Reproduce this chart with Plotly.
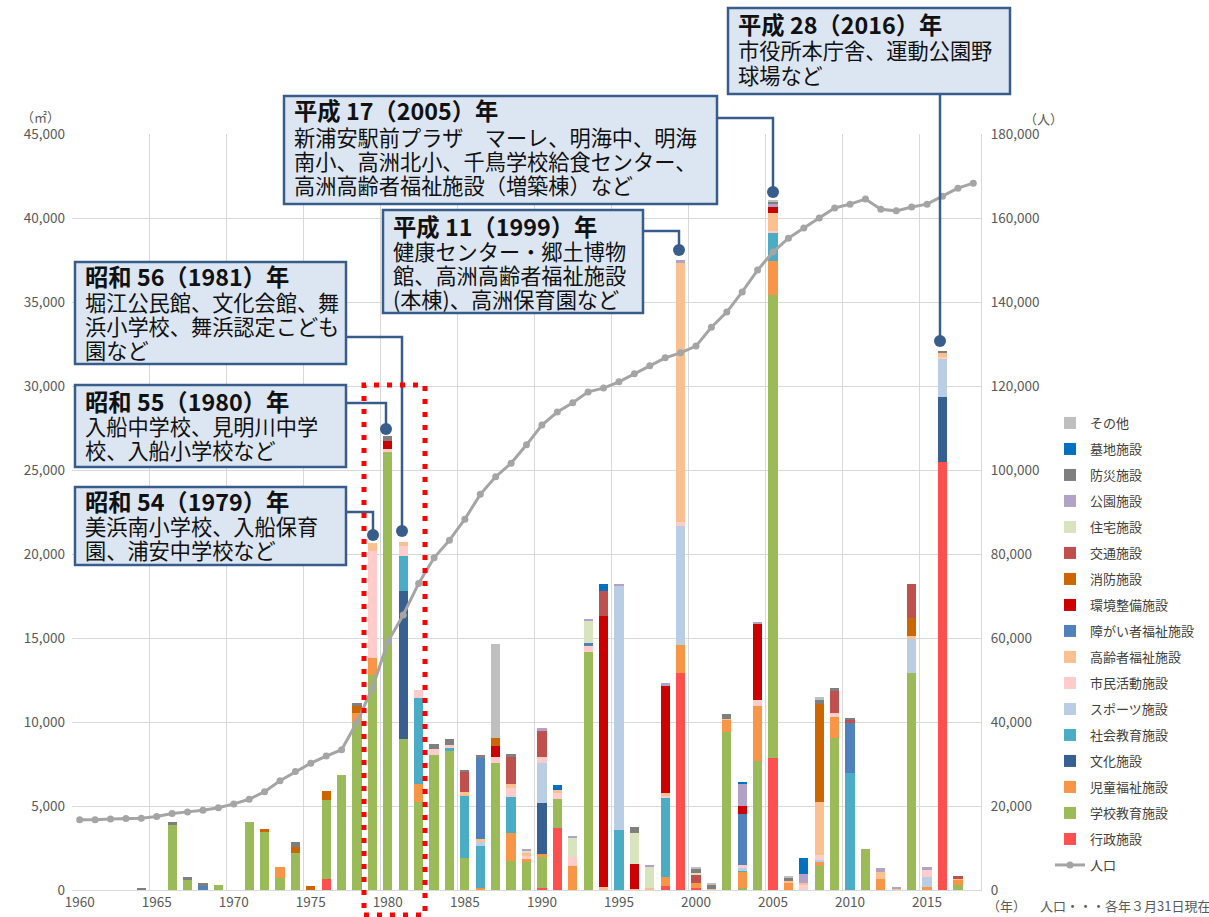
import plotly.graph_objects as go

# ---------------- data ----------------
years = list(range(1960, 2019))
x_tick_years = list(range(1960, 2016, 5))

# floor area (m2) by facility type, per year of construction
gyosei = {1976: 650, 1990: 100, 1991: 3670, 1998: 240, 1999: 12940, 2000: 100,
          2005: 7840, 2016: 25480}
gakko = {1966: 3870, 1967: 600, 1969: 280, 1971: 4030, 1972: 3470, 1973: 690,
         1974: 2180, 1976: 4710, 1977: 6850, 1978: 9920, 1979: 12800, 1980: 26100,
         1981: 8970, 1982: 5260, 1983: 8040, 1984: 8270, 1985: 1880, 1987: 7580,
         1988: 1730, 1989: 1650, 1990: 1880, 1991: 1750, 1993: 14150, 2002: 9420,
         2003: 100, 2004: 7680, 2005: 27580, 2008: 1430, 2009: 9030, 2011: 2440,
         2014: 12900, 2017: 300}
jido = {1973: 660, 1978: 600, 1979: 990, 1982: 1050, 1986: 140, 1988: 1640,
        1989: 200, 1990: 160, 1992: 1450, 1998: 510, 1999: 1640, 2000: 330,
        2002: 700, 2003: 990, 2004: 3270, 2005: 2020, 2006: 430, 2008: 260,
        2009: 1290, 2012: 650, 2015: 200, 2017: 300}
bunka = {1981: 8830, 1990: 3020, 2016: 3890}
shakai = {1981: 2100, 1982: 5140, 1984: 200, 1985: 3730, 1986: 2500, 1988: 2180,
          1995: 3570, 1998: 4710, 2003: 100, 2005: 1700, 2010: 6980}
sports = {1986: 200, 1990: 2380, 1995: 14530, 1999: 7090, 2003: 100, 2008: 100,
          2014: 2020, 2015: 600, 2016: 2230}
shimin = {1979: 6400, 1980: 150, 1981: 600, 1982: 450, 1983: 330, 1984: 160,
          1987: 360, 1988: 500, 1989: 230, 1990: 360, 1991: 330, 1992: 500,
          1993: 430, 1998: 140, 1999: 250, 2003: 200, 2004: 360, 2005: 100,
          2007: 340, 2008: 290, 2009: 230, 2015: 390, 2016: 150}
koreisha = {1979: 480, 1981: 230, 1985: 240, 1986: 200, 1988: 240, 1989: 100,
            1991: 200, 1994: 150, 1996: 60, 1997: 100, 1998: 190, 1999: 15420,
            2001: 80, 2002: 80, 2005: 1070, 2006: 100, 2007: 100, 2008: 3180,
            2012: 400, 2013: 50, 2014: 200, 2016: 220, 2017: 60}
shogai = {1968: 240, 1986: 4840, 1993: 100, 2003: 3030, 2010: 2980}
kankyo = {1980: 500, 1987: 630, 1994: 16180, 1996: 1470, 1998: 6350, 2003: 500,
          2004: 4500, 2005: 340}
shobo = {1972: 160, 1974: 360, 1975: 250, 1976: 560, 1978: 450, 1987: 500,
         2008: 5790, 2014: 1090}
kotsu = {1985: 1150, 1988: 1650, 1990: 1560, 1994: 1470, 2000: 460, 2009: 1290,
         2010: 160, 2014: 1980, 2017: 170}
jutaku = {1989: 140, 1992: 1190, 1993: 1330, 1996: 1840, 1997: 1250, 2000: 140}
koen = {1989: 140, 1990: 160, 1992: 100, 1993: 150, 1995: 110, 1997: 160,
        1998: 160, 1999: 180, 2003: 1290, 2004: 160, 2005: 170, 2007: 500,
        2012: 240, 2013: 150, 2015: 200}
bosai = {1964: 100, 1966: 180, 1967: 150, 1968: 160, 1974: 300, 1978: 150,
         1980: 250, 1983: 300, 1984: 360, 1985: 140, 1986: 180, 1988: 140,
         1996: 400, 2000: 260, 2001: 250, 2002: 250, 2005: 150, 2006: 200,
         2008: 260, 2009: 160, 2010: 100, 2016: 140}
bochi = {1991: 280, 1994: 410, 2003: 140, 2007: 950}
sonota = {1987: 5570, 2000: 100, 2001: 100, 2005: 100, 2006: 80, 2008: 160}

# population (persons, right axis)
population = [16700, 16700, 16900, 17000, 17100, 17500, 18200, 18600, 19000, 19600,
              20500, 21600, 23400, 26000, 28200, 30200, 31900, 33400, 40000, 48100,
              59100, 65500, 73000, 79100, 83300, 88300, 94200, 98400, 101600, 106000,
              110700, 113800, 116000, 118600, 119500, 121000, 122900, 124800, 126700, 127900,
              129500, 134000, 137600, 142400, 147600, 151900, 155200, 157600, 160000, 162400,
              163300, 164500, 162100, 161700, 162600, 163300, 165200, 167100, 168300]

series_names = ["行政施設", "学校教育施設", "児童福祉施設", "文化施設", "社会教育施設",
                "スポーツ施設", "市民活動施設", "高齢者福祉施設", "障がい者福祉施設",
                "環境整備施設", "消防施設", "交通施設", "住宅施設", "公園施設",
                "防災施設", "墓地施設", "その他"]
series_values = [gyosei, gakko, jido, bunka, shakai, sports, shimin, koreisha, shogai,
                 kankyo, shobo, kotsu, jutaku, koen, bosai, bochi, sonota]
series_colors = ["#FF5050", "#9BBB59", "#F79646", "#376092", "#4BACC6", "#B9CDE5",
                 "#FFCCCC", "#FAC090", "#4F81BD", "#CC0000", "#CC6600", "#C0504D",
                 "#D7E4BD", "#B3A2C7", "#7F7F7F", "#0070C0", "#BFBFBF"]

FONT = "Noto Sans CJK JP"

# ---------------- figure ----------------
fig = go.Figure()
n = len(series_names)
for i, (name, vals, col) in enumerate(zip(series_names, series_values, series_colors)):
    fig.add_trace(go.Bar(
        x=years, y=[vals.get(yr, 0) for yr in years], name=name,
        marker=dict(color=col, line=dict(width=0)), width=0.6,
        legendrank=n - i, legendgroup=name,
    ))

fig.add_trace(go.Scatter(
    x=years, y=population, name="人口", yaxis="y2", mode="lines+markers",
    line=dict(color="#A5A5A5", width=3), marker=dict(color="#A5A5A5", size=7),
    legendrank=n + 1, legendgroup="人口",
))

# plot area in pixels
L, R, T, B = 72, 981, 134, 890
W, H = 1209, 917


def px(x):
    return (x - L) / (R - L)


def py(y):
    return (B - y) / (B - T)


shapes = []
annotations = []

BOX_FILL = "#DCE6F2"
BOX_LINE = "#385D8A"

boxes = [
    dict(box=(728, 8, 1010, 94), lines=["平成 28（2016）年", "市役所本庁舎、運動公園野", "球場など"],
         centers=[24, 50, 74], path=[(940, 94), (940, 341)]),
    dict(box=(284, 96, 717, 204),
         lines=["平成 17（2005）年", "新浦安駅前プラザ　マーレ、明海中、明海",
                "南小、高洲北小、千鳥学校給食センター、", "高洲高齢者福祉施設（増築棟）など"],
         centers=[110, 136, 160, 184], path=[(717, 118), (773, 118), (773, 192)]),
    dict(box=(383, 210, 643, 313),
         lines=["平成 11（1999）年", "健康センター・郷土博物", "館、高洲高齢者福祉施設", "(本棟)、高洲保育園など"],
         centers=[226, 250, 274, 298], path=[(643, 231), (679, 231), (679, 250)]),
    dict(box=(75, 262, 346, 364),
         lines=["昭和 56（1981）年", "堀江公民館、文化会館、舞", "浜小学校、舞浜認定こども", "園など"],
         centers=[276, 301, 325, 349], path=[(346, 337), (402, 337), (402, 531)]),
    dict(box=(75, 385, 346, 467),
         lines=["昭和 55（1980）年", "入船中学校、見明川中学", "校、入船小学校など"],
         centers=[401, 425, 449], path=[(346, 403), (386, 403), (386, 429)]),
    dict(box=(75, 487, 346, 565),
         lines=["昭和 54（1979）年", "美浜南小学校、入船保育", "園、浦安中学校など"],
         centers=[501, 525, 549], path=[(346, 512), (373, 512), (373, 535)]),
]

for b in boxes:
    x0, y0, x1, y1 = b["box"]
    pts = b["path"]
    d = "M " + " L ".join(f"{px(a)},{py(c)}" for a, c in pts)
    shapes.append(dict(type="path", xref="paper", yref="paper", path=d,
                       line=dict(color=BOX_LINE, width=2.5), layer="above"))
    ex, ey = pts[-1]
    r = 6
    shapes.append(dict(type="circle", xref="paper", yref="paper",
                       x0=px(ex - r), x1=px(ex + r), y0=py(ey + r), y1=py(ey - r),
                       fillcolor=BOX_LINE, line=dict(color=BOX_LINE, width=0), layer="above"))
    shapes.append(dict(type="rect", xref="paper", yref="paper",
                       x0=px(x0), x1=px(x1), y0=py(y1), y1=py(y0),
                       fillcolor=BOX_FILL, line=dict(color=BOX_LINE, width=2.5), layer="above"))
    for k, (txt, cy) in enumerate(zip(b["lines"], b["centers"])):
        annotations.append(dict(
            xref="paper", yref="paper", x=px(x0 + 8), y=py(cy), xanchor="left", yanchor="middle",
            text=f"<b>{txt}</b>" if k == 0 else txt, showarrow=False,
            font=dict(family=FONT, size=23.3 if k == 0 else 21.2, color="#111111")))

# red dotted rectangle
shapes.append(dict(type="rect", xref="paper", yref="paper",
                   x0=px(364), x1=px(425), y0=py(915), y1=py(385),
                   line=dict(color="#FF0000", width=5, dash="5px,8px"), layer="above"))

# unit / footer labels
small = dict(family=FONT, size=13, color="#595959")
annotations += [
    dict(xref="paper", yref="paper", x=px(62), y=py(116), xanchor="right", yanchor="middle",
         text="（㎡）", showarrow=False, font=small),
    dict(xref="paper", yref="paper", x=px(1022), y=py(118), xanchor="left", yanchor="middle",
         text="（人）", showarrow=False, font=small),
    dict(xref="paper", yref="paper", x=px(985), y=py(905), xanchor="left", yanchor="middle",
         text="（年）", showarrow=False, font=small),
    dict(xref="paper", yref="paper", x=px(1038), y=py(905), xanchor="left", yanchor="middle",
         text="人口・・・各年３月31日現在", showarrow=False, font=small),
]

GRID = "#D9D9D9"
fig.update_layout(
    template="none",
    width=W, height=H,
    margin=dict(l=L, r=W - R, t=T, b=H - B, autoexpand=False),
    paper_bgcolor="white", plot_bgcolor="white",
    barmode="stack", bargap=0.4,
    font=dict(family=FONT, size=13, color="#595959"),
    xaxis=dict(range=[1959.5, 2018.5], tickmode="array", tickvals=x_tick_years,
               ticktext=[str(v) for v in x_tick_years], ticks="", showgrid=False,
               zeroline=False, showline=True, linecolor=GRID, linewidth=1,
               tickfont=dict(family=FONT, size=13.5, color="#595959"), automargin=False,
               minor=dict(tick0=1959.5, dtick=5, showgrid=True, gridcolor=GRID, gridwidth=1, ticks="")),
    yaxis=dict(range=[0, 45000], dtick=5000, tickformat=",", showgrid=True, gridcolor=GRID,
               gridwidth=1, zeroline=False, ticks="", showline=False, automargin=False,
               ticklabelstandoff=6,
               tickfont=dict(family=FONT, size=13.5, color="#595959")),
    yaxis2=dict(range=[0, 180000], dtick=20000, tickformat=",", overlaying="y", side="right",
                showgrid=False, zeroline=False, ticks="", showline=True, linecolor=GRID,
                automargin=False, ticklabelstandoff=6,
                tickfont=dict(family=FONT, size=13.5, color="#595959")),
    legend=dict(x=px(1050), y=py(408), xanchor="left", yanchor="top", xref="paper", yref="paper",
                font=dict(family=FONT, size=13, color="#404040"), tracegroupgap=6.1,
                bgcolor="rgba(0,0,0,0)", itemwidth=30),
    shapes=shapes,
    annotations=annotations,
    showlegend=True,
)

fig.write_html("out.html", config={"displayModeBar": False},
               post_script="document.body.style.margin='0px';document.body.style.padding='0px';"
                           "document.body.style.overflow='hidden';")
